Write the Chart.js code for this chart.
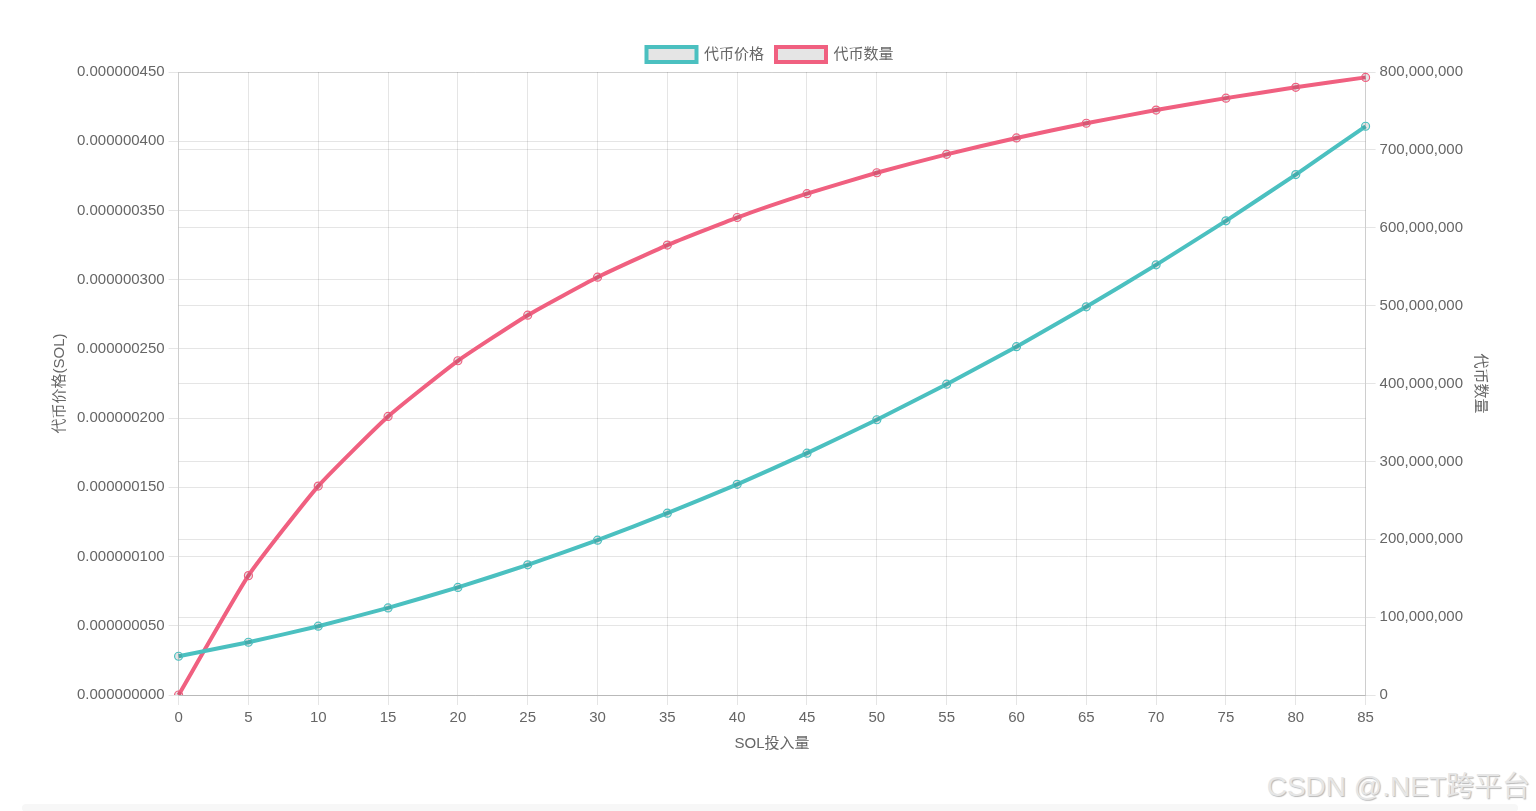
<!DOCTYPE html>
<html>
<head>
<meta charset="utf-8">
<script src="https://cdn.jsdelivr.net/npm/chart.js@4/dist/chart.umd.min.js"></script>
<style>
    body { margin: 0; background: #fff; }
    #wrap { position: absolute; left: 47px; top: 35px; width: 1446px; height: 722px; }
    #mark { position: absolute; right: 6px; top: 764px; font-family: 'Liberation Sans', 'Noto Sans CJK SC', sans-serif;
        font-size: 28px; color: #e6e6e6; text-shadow: 1px 1px 1px #b8b8b8; }
    #bar { position: absolute; left: 22px; top: 804px; width: 1496px; height: 8px; background: #f7f7f7; border-radius: 4px; }
</style>
</head>
<body>
<div id="wrap"><canvas id="chart"></canvas></div>
<div id="mark">CSDN @.NET跨平台</div>
<div id="bar"></div>
<script>
// SOL 投入量 (x 轴)
const solInputs = ['0', '5', '10', '15', '20', '25', '30', '35', '40', '45', '50', '55', '60', '65', '70', '75', '80', '85'];

// 代币价格 (SOL)
const tokenPrices = [
    0.0000000280, 0.0000000381, 0.0000000497, 0.0000000629, 0.0000000777, 0.0000000940,
    0.0000001118, 0.0000001313, 0.0000001522, 0.0000001747, 0.0000001988, 0.0000002245,
    0.0000002516, 0.0000002804, 0.0000003107, 0.0000003425, 0.0000003759, 0.0000004108
];

// 代币数量
const tokenAmounts = [
    0, 153290000, 268250000, 357670000, 429200000, 487730000,
    536500000, 577770000, 613140000, 643800000, 670630000, 694290000,
    715330000, 734160000, 751100000, 766430000, 780360000, 793090000
];

const FONT = "'Liberation Sans', 'Noto Sans CJK SC', Arial, sans-serif";
Chart.defaults.font.family = FONT;
Chart.defaults.font.size = 15;
Chart.defaults.color = '#666';

const ctx = document.getElementById('chart').getContext('2d');
window.trendChart = new Chart(ctx, {
    type: 'line',
    data: {
        labels: solInputs,
        datasets: [{
            label: '代币价格',
            data: tokenPrices,
            yAxisID: 'y',
            borderColor: 'rgb(75, 192, 192)',
            backgroundColor: 'rgba(0, 0, 0, 0.1)',
            borderWidth: 4,
            pointRadius: 4,
            pointBorderWidth: 1.2,
            tension: 0.15
        }, {
            label: '代币数量',
            data: tokenAmounts,
            yAxisID: 'y1',
            borderColor: 'rgb(240, 96, 128)',
            backgroundColor: 'rgba(0, 0, 0, 0.1)',
            borderWidth: 4,
            pointRadius: 4,
            pointBorderWidth: 1.2,
            tension: 0.15
        }]
    },
    options: {
        responsive: true,
        maintainAspectRatio: false,
        animation: false,
        layout: { padding: 0 },
        plugins: {
            legend: {
                labels: { boxWidth: 50, boxHeight: 15, padding: 12 }
            },
            tooltip: { enabled: false }
        },
        scales: {
            x: {
                grid: { tickLength: 10 },
                ticks: { padding: 4, maxRotation: 0 },
                title: { display: true, text: 'SOL投入量' }
            },
            y: {
                position: 'left',
                min: 0,
                max: 0.00000045,
                grid: { tickLength: 10 },
                ticks: {
                    stepSize: 0.00000005,
                    padding: 4,
                    callback: (v) => Number(v).toFixed(9)
                },
                title: { display: true, text: '代币价格(SOL)' }
            },
            y1: {
                position: 'right',
                min: 0,
                max: 800000000,
                grid: { tickLength: 10 },
                ticks: {
                    stepSize: 100000000,
                    padding: 4,
                    callback: (v) => Number(v).toLocaleString('en-US')
                },
                title: { display: true, text: '代币数量' }
            }
        }
    }
});
</script>
</body>
</html>
